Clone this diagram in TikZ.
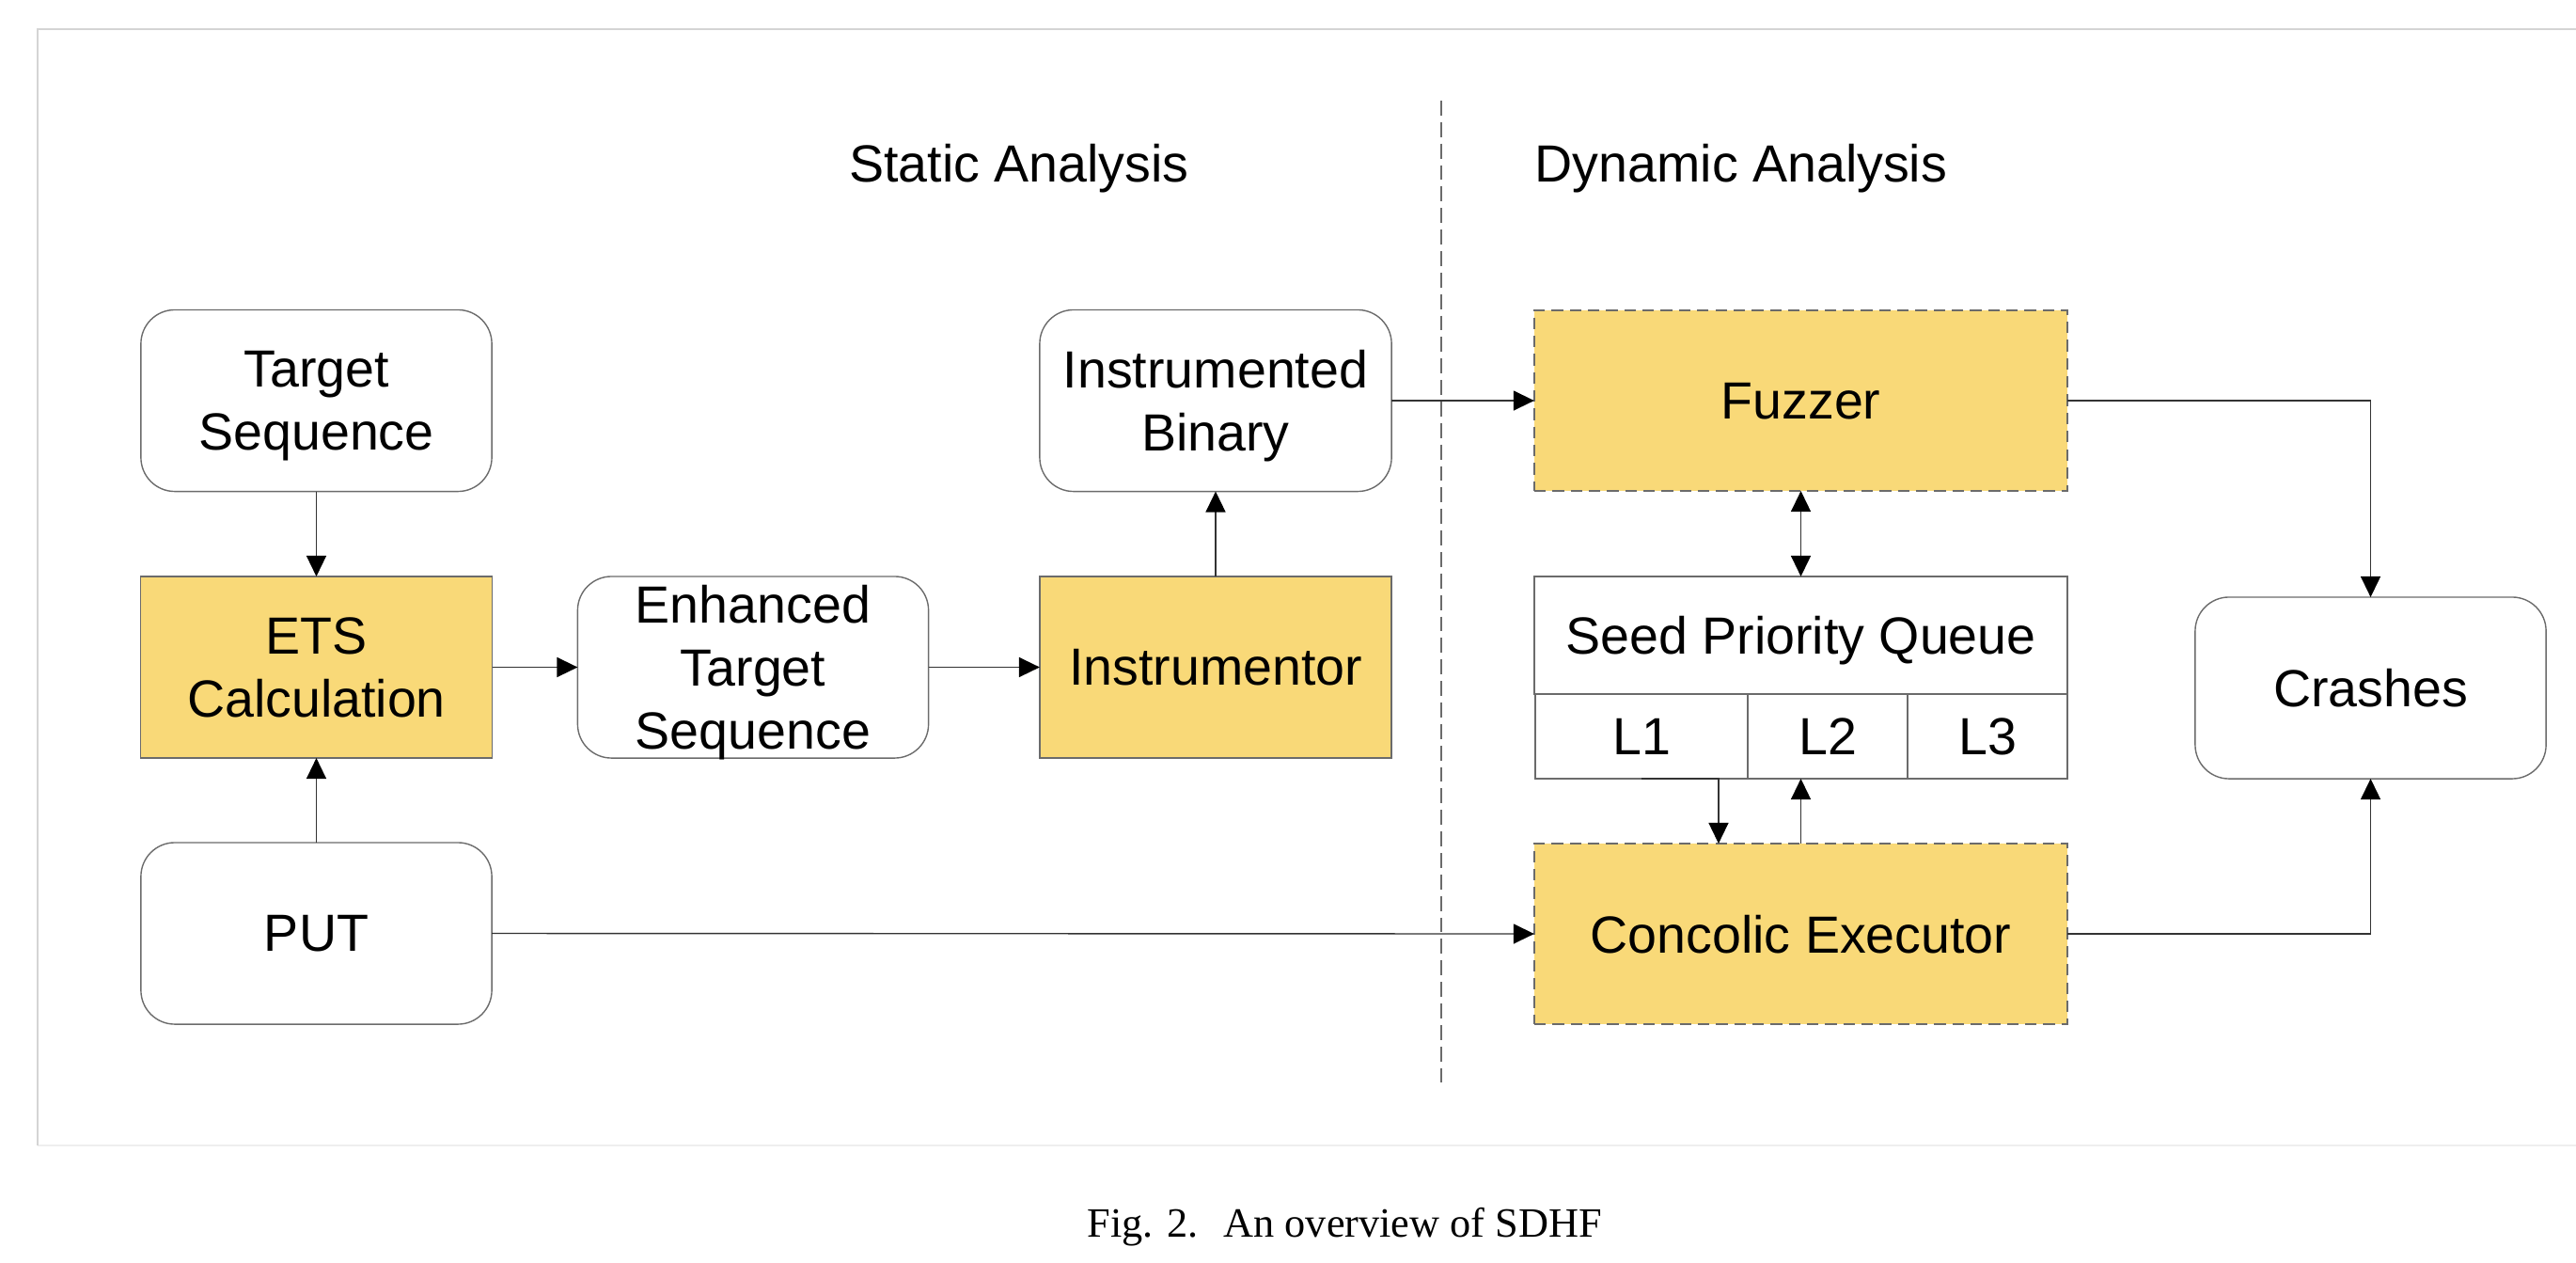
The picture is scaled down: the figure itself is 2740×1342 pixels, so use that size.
\documentclass[tikz,border=0pt]{standalone}
\usepackage{fontspec}
\setmainfont{Liberation Sans}
\newfontfamily\capfont{Liberation Serif}
\usetikzlibrary{arrows.meta,calc}
\definecolor{boxyellow}{HTML}{F9D978}
\definecolor{bordergray}{HTML}{6B6B6B}
\definecolor{framegray}{HTML}{D4D4D4}
\definecolor{framelight}{HTML}{EEEEEE}
\definecolor{linegray}{HTML}{333333}
\tikzset{
  fs/.style={font=\fontsize{15.8}{19}\selectfont},
  basebox/.style={fs, draw=bordergray, line width=0.4pt, align=center, inner sep=0pt, outer sep=0pt, text depth=0pt},
  roundbox/.style={basebox, rounded corners=0.36cm, minimum width=3.73cm, minimum height=1.93cm},
  solidyellow/.style={basebox, fill=boxyellow, minimum width=3.74cm, minimum height=1.93cm},
  dashyellow/.style={basebox, fill=boxyellow, dash pattern=on 3.5pt off 2pt, minimum width=5.67cm, minimum height=1.92cm},
  cell/.style={basebox, minimum height=0.9cm},
  arr/.style={draw=linegray, line width=0.4pt, -{Triangle[width=0.21cm,length=0.22cm,color=black]}},
  darr/.style={draw=linegray, line width=0.4pt, {Triangle[width=0.21cm,length=0.22cm,color=black]}-{Triangle[width=0.21cm,length=0.22cm,color=black]}},
  heading/.style={fs, inner sep=0pt}
}
\begin{document}
\begin{tikzpicture}[x=0.01cm, y=-0.01cm]
\useasboundingbox (0,0) rectangle (2740,1342);
% frame
\draw[framelight, line width=0.5pt] (40,1218) -- (2745,1218);
\draw[framegray, line width=0.5pt] (40,1218) -- (40,31) -- (2745,31);
% divider
\draw[bordergray, line width=0.4pt, dash pattern=on 4.5pt off 2pt] (1533,107) -- (1533,1151);
% headings
\node[heading, anchor=base] (static) at (1084,193) {Static Analysis};
\node[heading, anchor=base west] (dynamic) at (1632,193) {Dynamic Analysis};
% static nodes
\node[roundbox] (ts) at (336.5,426) {Target\\Sequence};
\node[solidyellow] (ets) at (336.5,709.5) {ETS\\Calculation};
\node[roundbox] (put) at (336.5,992.5) {PUT};
\node[roundbox] (enh) at (801,709.5) {Enhanced\\Target\\Sequence};
\node[solidyellow] (instr) at (1293,709.5) {Instrumentor};
\node[roundbox, minimum width=3.74cm] (ib) at (1293,426) {Instrumented\\Binary};
% dynamic nodes
\node[dashyellow] (fuzz) at (1915.5,426) {Fuzzer};
\node[basebox, minimum width=5.67cm, minimum height=1.25cm] (spq) at (1915.5,675.5) {Seed Priority Queue};
\node[cell, minimum width=2.26cm] (l1) at (1746,783) {L1};
\node[cell, minimum width=1.70cm] (l2) at (1944,783) {L2};
\node[cell, minimum width=1.70cm] (l3) at (2114,783) {L3};
\node[dashyellow] (conc) at (1915.5,993) {Concolic Executor};
\node[roundbox] (crash) at (2521.5,731.5) {Crashes};
% connectors
\draw[arr] (ts.south) -- (ets.north);
\draw[arr] (put.north) -- (ets.south);
\draw[arr] (ets.east) -- (enh.west);
\draw[arr] (enh.east) -- (instr.west);
\draw[arr] (instr.north) -- (ib.south);
\draw[arr] (ib.east) -- (fuzz.west);
\draw[darr] (fuzz.south) -- (spq.north);
\draw[arr] (put.east) -- (conc.west);
\draw[arr] (fuzz.east) -| (crash.north);
\draw[arr] (conc.east) -| (crash.south);
\draw[arr] (l1.south) -| ([xshift=-0.875cm]conc.north);
\draw[arr] (conc.north) -- (conc.north |- l2.south);
% caption
\node[inner sep=0pt, anchor=base west, font=\capfont\fontsize{12.6}{15}\selectfont] (cap) at (1156,1315) {Fig. 2.\hspace{0.6em}An overview of SDHF};
\end{tikzpicture}
\end{document}
